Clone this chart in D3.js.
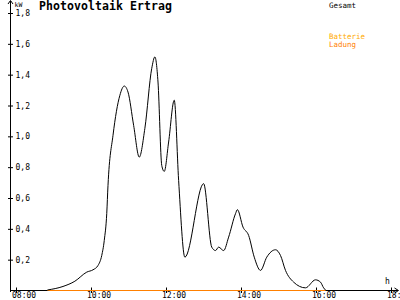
<!DOCTYPE html>
<html>
<head>
<meta charset="utf-8">
<script src="https://cdn.jsdelivr.net/npm/d3@7"></script>
<style>
  body { margin: 0; background: #fff; }
  svg { display: block; font-family: "DejaVu Sans Mono", "Liberation Mono", monospace; }
</style>
</head>
<body>
<div class="chart"></div>
<script>
var svgWidth = 400;
var svgHeight = 300;

// data (time of day, kW)
var times = ["08:51", "09:16", "09:35", "09:54", "10:04", "10:12", "10:18", "10:22", "10:26", "10:28",
  "10:36", "10:47", "10:54", "11:00", "11:09", "11:18", "11:27", "11:38", "11:43", "11:48",
  "11:54", "11:58", "12:05", "12:14", "12:21", "12:31", "13:01", "13:14", "13:20", "13:25",
  "13:33", "13:41", "13:52", "13:55", "14:04", "14:13", "14:22", "14:32", "14:42", "14:56",
  "15:04", "15:12", "15:25", "15:44", "16:00", "16:08", "16:13", "16:16"];
var gesamt = [0.00, 0.023, 0.057, 0.116, 0.131, 0.159, 0.224, 0.321, 0.497, 0.679,
  1.003, 1.263, 1.323, 1.284, 1.068, 0.862, 1.049, 1.438, 1.512, 1.349,
  0.808, 0.769, 0.960, 1.231, 0.711, 0.213, 0.690, 0.278, 0.256, 0.278,
  0.256, 0.343, 0.495, 0.521, 0.408, 0.354, 0.213, 0.127, 0.213, 0.261,
  0.224, 0.127, 0.051, 0.014, 0.066, 0.051, 0.014, 0.00];

var ladungTimes = ["08:51", "16:16"];
var ladung = [0, 0];

var xTicks = ["08:00", "10:00", "12:00", "14:00", "16:00", "18:00"];
var yTicks = [0.2, 0.4, 0.6, 0.8, 1.0, 1.2, 1.4, 1.6, 1.8];

function toHours(s) {
  var p = s.split(":");
  return +p[0] + (+p[1]) / 60;
}

var svg = d3.select(".chart")
  .append("svg")
  .attr("width", svgWidth)
  .attr("height", svgHeight);

var xScale = d3.scaleLinear().domain([8, 18]).range([15.5, 390.5]);
var yScale = d3.scaleLinear().domain([0, 1.8]).range([290, 12.5]);

var x0 = 10.5;
var y0 = 290.5;

// axes lines with arrows
svg.append("line")
  .attr("x1", x0).attr("y1", 1).attr("x2", x0).attr("y2", 292)
  .attr("stroke", "#000");
svg.append("path")
  .attr("d", `M${x0 - 2.5},4 L${x0},0.5 L${x0 + 2.5},4`)
  .attr("fill", "none").attr("stroke", "#000");

svg.append("line")
  .attr("x1", x0).attr("y1", y0).attr("x2", 398).attr("y2", y0)
  .attr("stroke", "#000");
svg.append("path")
  .attr("d", `M394.5,${y0 - 2.5} L398.5,${y0} L394.5,${y0 + 2.5}`)
  .attr("fill", "none").attr("stroke", "#000");

// y axis ticks and labels
var leftAxis = d3.axisRight(yScale)
  .tickValues(yTicks)
  .tickSize(2)
  .tickPadding(3)
  .tickFormat(d => d3.format(".1f")(d).replace(".", ","));

var yAxis = svg.append("g")
  .attr("transform", `translate(${x0}, 0.5)`)
  .call(leftAxis);
yAxis.select(".domain").remove();
yAxis.selectAll(".tick line").attr("x1", -2.5).attr("x2", 2.5).attr("stroke", "#000");
yAxis.selectAll(".tick text")
  .attr("font-size", 8)
  .attr("font-family", "DejaVu Sans Mono")
  .attr("fill", "#000");

// x axis ticks and labels
var bottomAxis = d3.axisBottom(xScale)
  .tickValues(xTicks.map(toHours))
  .tickSize(3)
  .tickFormat((d, i) => xTicks[i]);

var xAxis = svg.append("g")
  .attr("transform", `translate(0.5, ${y0})`)
  .call(bottomAxis);
xAxis.select(".domain").remove();
xAxis.selectAll(".tick line").attr("y1", -3).attr("y2", 2.5).attr("stroke", "#000");
xAxis.selectAll(".tick text")
  .attr("font-size", 8)
  .attr("font-family", "DejaVu Sans Mono")
  .attr("fill", "#000")
  .attr("text-anchor", "start")
  .attr("x", -4.5)
  .attr("y", 2)
  .attr("dy", "0.71em");

// unit labels
svg.append("text")
  .attr("x", 14.5).attr("y", 6.5)
  .attr("font-size", 6.5)
  .text("kW");
svg.append("text")
  .attr("x", 385).attr("y", 284)
  .attr("font-size", 8)
  .text("h");

// title and legend
svg.append("text")
  .attr("x", 39).attr("y", 10)
  .attr("font-size", 11.5)
  .attr("font-weight", "bold")
  .attr("textLength", 133)
  .text("Photovoltaik Ertrag");

svg.append("text")
  .attr("x", 329).attr("y", 7.5)
  .attr("font-size", 7.5)
  .attr("fill", "#000")
  .text("Gesamt");
svg.append("text")
  .attr("x", 329).attr("y", 38.5)
  .attr("font-size", 7.5)
  .attr("fill", "#ffaa00")
  .text("Batterie");
svg.append("text")
  .attr("x", 329).attr("y", 46.5)
  .attr("font-size", 7.5)
  .attr("fill", "#ff8000")
  .text("Ladung");

// series
var ladungData = ladungTimes.map((t, i) => ({ h: toHours(t), v: ladung[i] }));
var gesamtData = times.map((t, i) => ({ h: toHours(t), v: gesamt[i] }));

svg.append("path")
  .datum(ladungData)
  .attr("fill", "none")
  .attr("stroke", "#ff8000")
  .attr("stroke-width", 1.2)
  .attr("d", d3.line().x(d => xScale(d.h)).y(d => yScale(d.v) + 0.5));

svg.append("path")
  .datum(gesamtData)
  .attr("fill", "none")
  .attr("stroke", "#000")
  .attr("stroke-width", 1)
  .attr("d", d3.line()
    .x(d => xScale(d.h))
    .y(d => yScale(d.v))
    .curve(d3.curveMonotoneX));
</script>
</body>
</html>
